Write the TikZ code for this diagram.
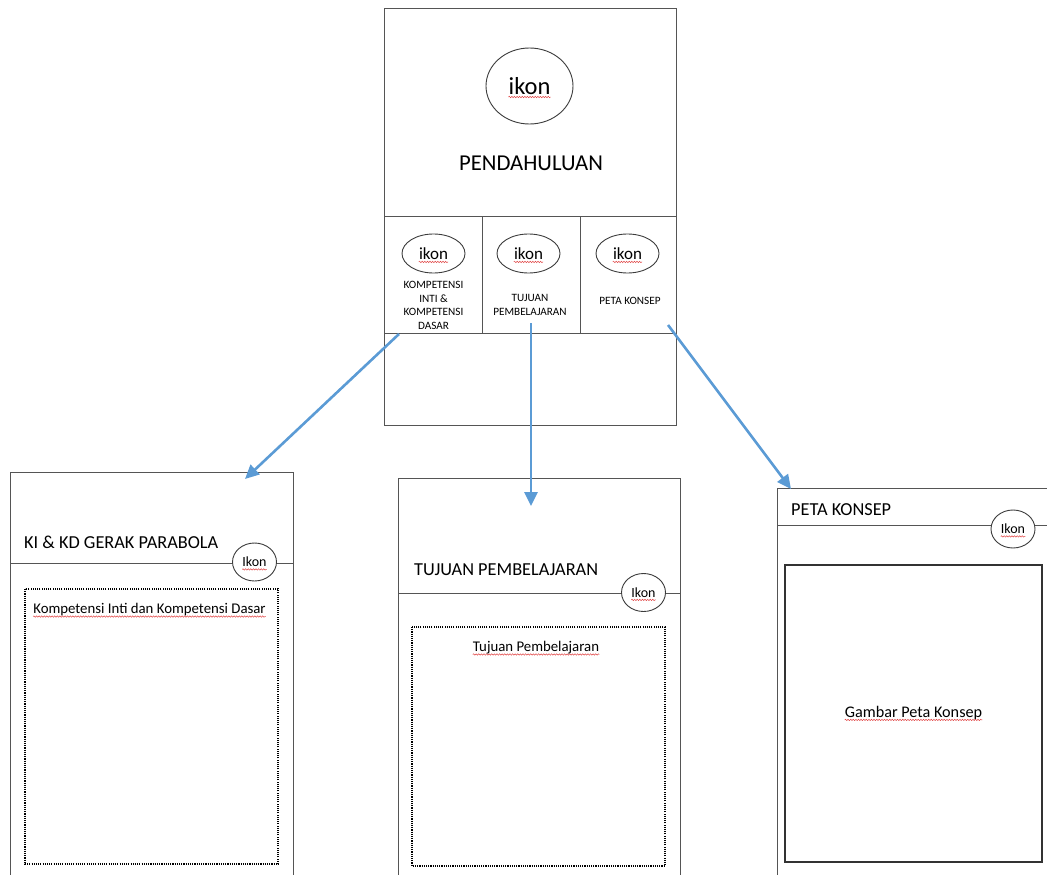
\documentclass[tikz,border=0pt]{standalone}
\usepackage{fontspec}
\setmainfont{Carlito}
\usetikzlibrary{arrows.meta,shapes.geometric,decorations.pathmorphing}

\definecolor{framegray}{RGB}{85,85,85}
\definecolor{ovalgray}{RGB}{60,60,60}
\definecolor{flowblue}{RGB}{91,155,213}
\definecolor{spellred}{RGB}{225,70,70}

\begin{document}
\begin{tikzpicture}[x=1pt,y=-1pt,
  panel/.style={draw=framegray, line width=1pt, rectangle, inner sep=0pt},
  rule/.style={draw=framegray, line width=1pt},
  oval/.style={draw=ovalgray, line width=0.9pt, ellipse, inner sep=0pt, fill=white},
  bigoval/.style={oval, minimum width=87pt, minimum height=76pt},
  midoval/.style={oval, minimum width=63pt, minimum height=39pt},
  tagoval/.style={oval, minimum width=44pt, minimum height=38pt},
  word/.style={inner sep=0pt, text=black},
  bigword/.style={word, font=\fontsize{24.5}{28}\selectfont},
  midword/.style={word, font=\fontsize{17}{20}\selectfont},
  tagword/.style={word, font=\fontsize{14}{16}\selectfont},
  title/.style={word, font=\fontsize{22.7}{26}\selectfont},
  heading/.style={word, anchor=base west, font=\fontsize{18.3}{21}\selectfont},
  caption/.style={word, align=center, font=\fontsize{11.2}{13.4}\selectfont},
  bodytext/.style={word, font=\fontsize{14.8}{17}\selectfont},
  dotbox/.style={draw=black, line width=1.3pt, dash pattern=on 1.1pt off 1.1pt},
  solidbox/.style={draw=black!80, line width=1.1pt},
  flow/.style={draw=flowblue, line width=2.6pt, -{Triangle[length=14pt,width=13pt]}},
  spell/.style={draw=spellred, line width=0.5pt, decorate,
    decoration={snake, amplitude=0.7pt, segment length=2.6pt}}
]
\useasboundingbox (0,0) rectangle (1047,875);

% ---------- Pendahuluan page ----------
\node[panel, minimum width=292pt, minimum height=416pt] (intro) at (530,217) {};
\draw[rule] (384,216) -- (676,216);
\draw[rule] (384,333) -- (676,333);
\draw[rule] (482,216) -- (482,333);
\draw[rule] (580,216) -- (580,333);

\node[bigoval] (iconmain) at (529.5,86) {};
\node[bigword] (iconmaintxt) at (iconmain) {ikon};
\node[title] (introtitle) at (531,163) {PENDAHULUAN};

\node[midoval] (iconki) at (433.5,253.5) {};
\node[midword] (iconkitxt) at (iconki) {ikon};
\node[midoval] (icontp) at (528.5,253.5) {};
\node[midword] (icontptxt) at (icontp) {ikon};
\node[midoval] (iconpk) at (627.5,253.5) {};
\node[midword] (iconpktxt) at (iconpk) {ikon};

\node[caption] (capki) at (433.5,305.5) {KOMPETENSI\\INTI \&\\KOMPETENSI\\DASAR};
\node[caption] (captp) at (530,305) {TUJUAN\\PEMBELAJARAN};
\node[caption] (cappk) at (630,301) {PETA KONSEP};

% ---------- KI & KD page ----------
\node[panel, anchor=north west, minimum width=283pt, minimum height=460pt] (kipage) at (10,472) {};
\draw[rule] (10,563) -- (293,563);
\node[heading] (kititle) at (24,548) {KI \& KD GERAK PARABOLA};
\node[tagoval] (kitag) at (254.5,562) {};
\node[tagword] (kitagtxt) at (kitag) {Ikon};
\draw[dotbox] (25,589) rectangle (278,864);
\node[bodytext] (kitext) at (149.5,610) {Kompetensi Inti dan Kompetensi Dasar};

% ---------- Tujuan page ----------
\node[panel, anchor=north west, minimum width=282pt, minimum height=460pt] (tppage) at (398,478) {};
\draw[rule] (398,593) -- (680,593);
\node[heading] (tptitle) at (414,575) {TUJUAN PEMBELAJARAN};
\node[tagoval] (tptag) at (643.5,592.5) {};
\node[tagword] (tptagtxt) at (tptag) {Ikon};
\draw[dotbox] (412,627) rectangle (665,866);
\node[bodytext] (tptext) at (536,648) {Tujuan Pembelajaran};

% ---------- Peta Konsep page ----------
\node[panel, anchor=north west, minimum width=300pt, minimum height=460pt] (pkpage) at (777,488) {};
\draw[rule] (777,525) -- (1060,525);
\node[heading] (pktitle) at (791,515) {PETA KONSEP};
\node[tagoval] (pktag) at (1013,529) {};
\node[tagword] (pktagtxt) at (pktag) {Ikon};
\draw[solidbox] (785,565) rectangle (1042,862);
\node[bodytext, font=\fontsize{16.2}{19}\selectfont] (pktext) at (913.5,713) {Gambar Peta Konsep};

% ---------- spelling marks under words ----------
\foreach \t in {iconmaintxt,iconkitxt,icontptxt,iconpktxt,kitagtxt,tptagtxt,pktagtxt,kitext,tptext,pktext}
  \draw[spell] ([yshift=-2.6pt]\t.base west) -- ([yshift=-2.6pt]\t.base east);

% ---------- navigation arrows ----------
\coordinate (fromki) at (399,334);
\coordinate (toki)   at (245,479);
\coordinate (fromtp) at (531,323);
\coordinate (totp)   at (531,506);
\coordinate (frompk) at (668,325);
\coordinate (topk)   at (791,489);
\draw[flow] (fromki) -- (toki);
\draw[flow] (fromtp) -- (totp);
\draw[flow] (frompk) -- (topk);
\end{tikzpicture}
\end{document}
